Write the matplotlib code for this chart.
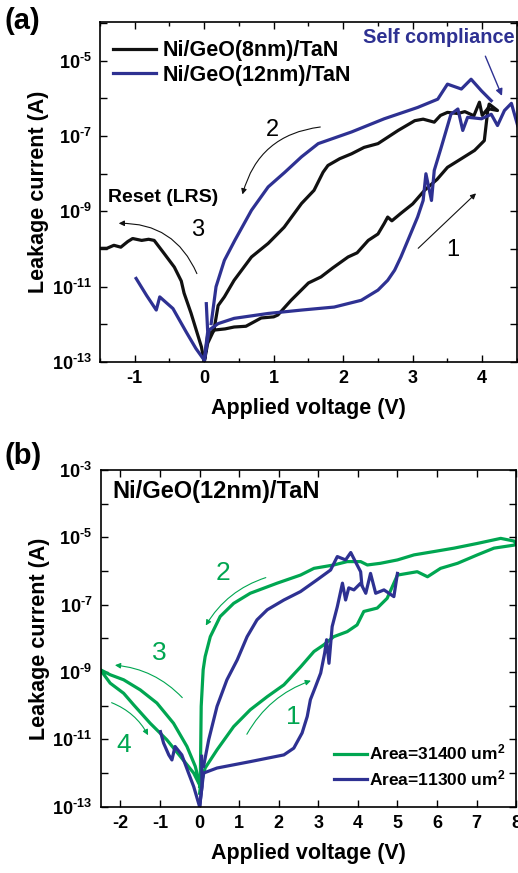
import numpy as np
import matplotlib
matplotlib.use("Agg")
import matplotlib.pyplot as plt
from matplotlib.ticker import FixedLocator, FuncFormatter, MultipleLocator

plt.rcParams["font.family"] = ["Liberation Sans", "DejaVu Sans"]
plt.rcParams["mathtext.fontset"] = "custom"
plt.rcParams["mathtext.rm"] = "Liberation Sans:bold"
plt.rcParams["mathtext.bf"] = "Liberation Sans:bold"
plt.rcParams["mathtext.default"] = "bf"
plt.rcParams["axes.unicode_minus"] = False

BLACK = "#111111"
BLUE = "#2e3192"
GREEN = "#00a651"

# ---- panel (a): values as (voltage V, log10 current A) ----
a_black_v = [0.0, 0.05, 0.15, 0.3, 0.43, 0.6, 0.82, 1.0, 1.06, 1.25, 1.5, 1.68, 1.85, 2.07, 2.2, 2.36,
             2.5, 2.59, 2.64, 2.7, 2.83, 3.0, 3.17, 3.35, 3.5, 3.7, 3.89, 4.03, 4.08, 4.1,
             4.22, 4.08, 4.0, 3.96, 3.88, 3.75, 3.65, 3.5, 3.4, 3.31, 3.15, 3.03, 2.79, 2.5, 2.3,
             2.12, 1.95, 1.78, 1.71, 1.58, 1.4, 1.15, 0.92, 0.68, 0.43, 0.29, 0.2, 0.14, 0.05, 0.0]
a_black_logi = [-13.0, -12.28, -12.15, -12.12, -12.07, -12.05, -11.83, -11.8, -11.75, -11.36, -10.9, -10.74,
                -10.5, -10.21, -10.1, -9.77, -9.6, -9.32, -9.15, -9.25, -9.05, -8.8, -8.44, -8.15, -7.83,
                -7.6, -7.38, -7.12, -6.32, -6.15,
                -6.32, -6.27, -6.45, -6.1, -6.46, -6.35, -6.4, -6.37, -6.45, -6.63, -6.55, -6.59, -6.85,
                -7.2, -7.3, -7.47, -7.6, -7.78, -7.96, -8.44, -8.79, -9.42, -9.85, -10.21, -10.83, -11.27,
                -11.5, -12.15, -12.5, -13.0]
a_black_neg_v = [0.0, -0.04, -0.19, -0.29, -0.33, -0.43, -0.58, -0.72, -0.8, -0.9, -1.03, -1.1, -1.2, -1.3,
                 -1.4, -1.48]
a_black_neg_logi = [-13.0, -12.6, -11.7, -11.17, -10.85, -10.48, -10.11, -9.77, -9.74, -9.77, -9.72, -9.8,
                    -9.95, -9.9, -9.98, -9.98]

a_blue_v = [0.0, 0.07, 0.2, 0.43, 0.92, 1.4, 1.87, 2.26, 2.5, 2.64, 2.74, 2.83, 2.93, 3.07, 3.15, 3.19,
            3.27, 3.31, 3.41, 3.55, 3.65, 3.72, 3.79, 3.99, 4.13, 4.22, 4.32, 4.42, 4.51]
a_blue_logi = [-13.0, -12.15, -11.98, -11.84, -11.71, -11.62, -11.54, -11.36, -11.09, -10.83, -10.56, -10.21,
               -9.77, -9.15, -8.71, -8.0, -8.71, -7.91, -7.3, -6.42, -6.28, -6.85, -6.5, -6.54, -6.42,
               -6.72, -6.32, -6.13, -6.72]
a_blue_up_v = [4.13, 3.99, 3.84, 3.7, 3.5, 3.36, 3.07, 2.59, 2.12, 1.64, 1.4, 1.16, 0.92, 0.68, 0.44, 0.29,
               0.17, 0.1]
a_blue_up_logi = [-6.06, -5.8, -5.49, -5.75, -5.62, -6.02, -6.24, -6.54, -6.89, -7.2, -7.55, -7.96, -8.35,
                  -8.97, -9.77, -10.3, -11.0, -11.98]
a_blue_neg_v = [0.03, 0.05, 0.0, -0.12, -0.26, -0.45, -0.64, -0.69, -0.83, -0.98]
a_blue_neg_logi = [-11.45, -12.2, -12.95, -12.64, -12.2, -11.58, -11.27, -11.62, -11.23, -10.78]

# ---- panel (b) ----
b_green_v = [0.0, 0.02, 0.14, 0.44, 0.86, 1.28, 1.71, 2.13, 2.55, 2.89, 3.14, 3.39, 3.73, 3.98, 4.15, 4.49,
             4.74, 5.0, 5.5, 5.76, 6.09, 6.52, 7.02, 7.44, 7.95, 8.0,
             7.95, 7.61, 7.02, 6.43, 5.93, 5.42, 5.0, 4.57, 4.24, 4.07, 3.73, 3.39, 2.89, 2.55, 1.96,
             1.28, 0.86, 0.52, 0.27, 0.14, 0.09, 0.04, 0.02, 0.0]
b_green_logi = [-12.6, -12.4, -11.85, -11.31, -10.62, -10.12, -9.73, -9.38, -8.85, -8.39, -8.19, -7.95,
                -7.8, -7.6, -7.2, -7.1, -6.81, -6.12, -6.02, -6.17, -5.92, -5.77, -5.52, -5.32, -5.23, -5.2,
                -5.11, -5.03, -5.18, -5.32, -5.42, -5.52, -5.67, -5.77, -5.82, -5.72, -5.72, -5.82, -5.92,
                -6.12, -6.36, -6.66, -6.96, -7.35, -7.95, -8.54, -8.93, -10.02, -12.0, -12.4]
b_green_neg_v = [0.02, -0.11, -0.32, -0.66, -1.08, -1.5, -1.92, -2.26, -2.51,
                 -2.26, -1.92, -1.67, -1.25, -0.83, -0.49, -0.15, 0.02]
b_green_neg_logi = [-12.4, -11.8, -11.21, -10.52, -9.92, -9.53, -9.23, -9.08, -8.93,
                    -9.33, -9.63, -9.97, -10.52, -11.01, -11.5, -12.0, -12.4]

b_blue_v = [0.0, 0.1, 0.44, 1.28, 2.13, 2.38, 2.59, 2.72, 2.8, 2.93, 3.06, 3.16, 3.21, 3.27, 3.35, 3.48,
            3.61, 3.69, 3.77, 3.9, 4.07, 4.2, 4.32, 4.45, 4.66, 4.91, 5.0]
b_blue_logi = [-13.0, -12.0, -11.85, -11.66, -11.46, -11.26, -10.81, -10.32, -9.82, -9.43, -9.03, -8.44,
               -8.04, -8.74, -7.65, -7.06, -6.36, -6.86, -6.5, -6.56, -6.36, -6.66, -6.07, -6.66, -6.56,
               -6.76, -6.07]
b_blue_up_v = [4.1, 4.07, 3.95, 3.82, 3.69, 3.48, 3.31, 2.97, 2.55, 2.13, 1.71, 1.45, 1.2, 0.95, 0.69,
               0.44, 0.23, 0.1]
b_blue_up_logi = [-6.4, -6.02, -5.75, -5.45, -5.67, -5.57, -5.97, -6.26, -6.61, -6.86, -7.15, -7.45,
                  -7.95, -8.64, -9.23, -10.02, -11.01, -11.8]
b_blue_neg_v = [0.05, 0.06, 0.0, -0.05, -0.15, -0.28, -0.45, -0.62, -0.7, -0.78, -0.91, -0.99]
b_blue_neg_logi = [-11.5, -12.4, -13.0, -12.8, -12.4, -12.0, -11.46, -11.21, -11.61, -11.46, -11.11, -10.77]


def cur(logi):
    return 10.0 ** np.asarray(logi)


def log_label(exps):
    def f(y, pos):
        e = int(round(np.log10(y)))
        if e in exps:
            return r"10$^{\text{-}%d}$" % (-e)
        return ""
    return FuncFormatter(f)


def style_axis(ax, xlim, ylim, exps):
    ax.set_yscale("log")
    ax.set_xlim(*xlim)
    ax.set_ylim(*ylim)
    dec = range(int(np.log10(ylim[0])), int(np.log10(ylim[1])) + 1)
    ax.yaxis.set_major_locator(FixedLocator([10.0 ** d for d in dec]))
    ax.yaxis.set_minor_locator(FixedLocator([]))
    ax.yaxis.set_major_formatter(log_label(exps))
    ax.xaxis.set_major_locator(MultipleLocator(1))
    ax.tick_params(which="both", direction="in", top=True, right=True, width=1.0)
    ax.tick_params(which="major", length=5, labelsize=13, pad=6)
    ax.tick_params(which="minor", length=3)
    for lab in ax.get_xticklabels() + ax.get_yticklabels():
        lab.set_fontweight("bold")
    for s in ax.spines.values():
        s.set_linewidth(1.2)
    ax.set_xlabel("Applied voltage (V)", fontsize=15.5, fontweight="bold", labelpad=8)
    ax.set_ylabel("Leakage current (A)", fontsize=15.5, fontweight="bold", labelpad=2)


fig = plt.figure(figsize=(5.18, 8.73), dpi=100)

# ---------------- (a) ----------------
ax1 = fig.add_axes([0.193, 0.5853, 0.805, 0.3895])
lw = 2.3
ax1.plot(a_black_v, cur(a_black_logi), color=BLACK, lw=lw, label="Ni/GeO(8nm)/TaN")
ax1.plot(a_black_neg_v, cur(a_black_neg_logi), color=BLACK, lw=lw)
ax1.plot(a_blue_v, cur(a_blue_logi), color=BLUE, lw=lw, label="Ni/GeO(12nm)/TaN")
ax1.plot(a_blue_up_v, cur(a_blue_up_logi), color=BLUE, lw=lw)
ax1.plot(a_blue_neg_v, cur(a_blue_neg_logi), color=BLUE, lw=lw)
style_axis(ax1, (-1.5, 4.5), (1e-13, 10 ** -3.97), [-5, -7, -9, -11, -13])
ax1.xaxis.set_minor_locator(MultipleLocator(0.5))
leg = ax1.legend(loc="upper left", bbox_to_anchor=(-0.005, 0.99), frameon=False, handlelength=2.0,
                 handletextpad=0.3, labelspacing=0.15, borderaxespad=0.3,
                 prop={"size": 15.5, "weight": "bold"})

ax1.text(4.46, 10 ** -4.39, "Self compliance", color=BLUE, fontsize=14.3, fontweight="bold",
         ha="right", va="center")
ax1.annotate("", xy=(4.3, 1e-6), xytext=(4.03, 10 ** -4.81),
             arrowprops=dict(arrowstyle="-|>", color=BLUE, lw=1.0, mutation_scale=10))
ax1.text(0.98, 10 ** -6.83, "2", fontsize=17, ha="center", va="center")
ax1.annotate("", xy=(0.54, 10 ** -8.62), xytext=(1.71, 10 ** -6.75),
             arrowprops=dict(arrowstyle="-|>", color=BLACK, lw=0.8, mutation_scale=8,
                             connectionstyle="arc3,rad=0.35"))
ax1.text(-1.38, 10 ** -8.63, "Reset (LRS)", fontsize=14, fontweight="bold", ha="left", va="center")
ax1.text(-0.09, 10 ** -9.5, "3", fontsize=17, ha="center", va="center")
ax1.annotate("", xy=(-1.27, 10 ** -9.32), xytext=(-0.09, 10 ** -10.72),
             arrowprops=dict(arrowstyle="-|>", color=BLACK, lw=0.8, mutation_scale=8,
                             connectionstyle="arc3,rad=0.35"))
ax1.text(3.58, 10 ** -10.03, "1", fontsize=17, ha="center", va="center")
ax1.annotate("", xy=(3.94, 10 ** -8.47), xytext=(3.05, 10 ** -10.03),
             arrowprops=dict(arrowstyle="-|>", color=BLACK, lw=0.8, mutation_scale=8))
fig.text(0.008, 0.976, "(a)", fontsize=21, fontweight="bold", ha="left", va="center")

# ---------------- (b) ----------------
ax2 = fig.add_axes([0.1944, 0.0759, 0.802, 0.3857])
ax2.plot(b_green_v, cur(b_green_logi), color=GREEN, lw=lw, label=r"Area=31400 um$^{2}$")
ax2.plot(b_green_neg_v, cur(b_green_neg_logi), color=GREEN, lw=lw)
ax2.plot(b_blue_v, cur(b_blue_logi), color=BLUE, lw=lw, label=r"Area=11300 um$^{2}$")
ax2.plot(b_blue_up_v, cur(b_blue_up_logi), color=BLUE, lw=lw)
ax2.plot(b_blue_neg_v, cur(b_blue_neg_logi), color=BLUE, lw=lw)
style_axis(ax2, (-2.5, 8.0), (1e-13, 1e-3), [-3, -5, -7, -9, -11, -13])
ax2.legend(loc="lower right", bbox_to_anchor=(1.0, 0.025), frameon=False, handlelength=1.9,
           handletextpad=0.15, labelspacing=0.3, borderaxespad=0.2,
           prop={"size": 12.5, "weight": "bold"})
ax2.text(-2.2, 10 ** -3.65, "Ni/GeO(12nm)/TaN", fontsize=17, fontweight="bold", ha="left", va="center")

ax2.text(0.6, 10 ** -6.06, "2", fontsize=19, color=GREEN, ha="center", va="center")
ax2.annotate("", xy=(0.12, 10 ** -7.69), xytext=(1.74, 10 ** -6.17),
             arrowprops=dict(arrowstyle="-|>", color=GREEN, lw=0.8, mutation_scale=8,
                             connectionstyle="arc3,rad=0.2"))
ax2.text(-1.02, 10 ** -8.43, "3", fontsize=19, color=GREEN, ha="center", va="center")
ax2.annotate("", xy=(-2.21, 10 ** -8.79), xytext=(-0.39, 10 ** -9.82),
             arrowprops=dict(arrowstyle="-|>", color=GREEN, lw=0.8, mutation_scale=8,
                             connectionstyle="arc3,rad=0.2"))
ax2.text(-1.93, 10 ** -11.16, "4", fontsize=19, color=GREEN, ha="center", va="center")
ax2.annotate("", xy=(-1.27, 10 ** -10.95), xytext=(-2.29, 10 ** -9.88),
             arrowprops=dict(arrowstyle="-|>", color=GREEN, lw=0.8, mutation_scale=8,
                             connectionstyle="arc3,rad=-0.2"))
ax2.text(2.37, 10 ** -10.33, "1", fontsize=19, color=GREEN, ha="center", va="center")
ax2.annotate("", xy=(2.88, 10 ** -9.23), xytext=(1.16, 10 ** -10.92),
             arrowprops=dict(arrowstyle="-|>", color=GREEN, lw=0.8, mutation_scale=8,
                             connectionstyle="arc3,rad=-0.2"))
fig.text(0.008, 0.478, "(b)", fontsize=21, fontweight="bold", ha="left", va="center")

fig.savefig("out.png", dpi=100)
